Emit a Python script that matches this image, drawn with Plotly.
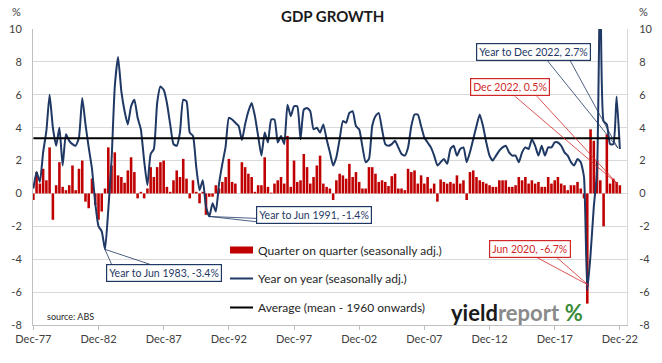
import pandas as pd
import plotly.graph_objects as go

# ---------------- data ----------------
first_quarter = "1977-12-01"
series_names = ["Quarter on quarter (seasonally adj.)",
                "Year on year (seasonally adj.)",
                "Average (mean - 1960 onwards)"]

qoq = [
    -0.4, 1.3, 0.6, 1.5, 0.8, 2.8, -1.6, 0.5, 1.9, 0.4,
    0.2, 0.5, 1.7, 0.2, 1.5, 2.0, -0.5, -0.9, 0.9, -0.7,
    -1.6, -1.1, 0.3, 2.8, 1.7, 2.5, 1.1, 1.0, 0.65, 1.4,
    2.2, 1.3, -0.3, 0.1, -0.3, 0.3, 1.6, 1.0, 1.6, 1.9,
    2.0, 0.4, 0.1, 0.8, 1.4, 1.0, 2.1, 0.9, -0.3, 0.8,
    0.1, -0.6, 0.1, -1.3, -0.2, -0.2, 0.5, 0.3, 0.7, 1.0,
    2.1, 0.7, 0.6, 0.0, 1.9, 1.6, 1.2, 1.0, 0.1, 0.5,
    0.5, 2.2, 0.4, 0.05, 0.6, 0.8, 1.0, 0.6, 3.5, 0.4,
    2.0, 0.7, 0.8, 2.4, 1.6, 0.6, 1.0, 1.7, 2.3, 0.6,
    0.4, 0.3, -0.4, 0.8, 1.2, 1.1, 0.9, 1.8, 1.0, 1.3,
    0.7, 0.3, 0.3, 1.6, 1.6, 1.2, 0.7, 0.8, 0.7, 0.45,
    1.05, 1.2, 0.3, 0.3, 0.2, 1.5, 1.3, 1.4, 0.6, 1.1,
    0.6, 1.0, 0.3, 0.6, -0.5, 0.85, 0.7, 0.6, 0.7, 0.6,
    1.1, 0.6, 0.8, -0.4, 1.3, 1.4, 1.0, 0.8, 0.7, 0.6,
    0.5, 0.4, 0.4, 0.8, 0.8, 0.8, 0.4, 0.4, 0.5, 1.0,
    0.8, 1.0, 0.6, 0.8, 0.6, 0.7, 0.4, 0.4, 1.0, 0.6,
    0.8, 1.0, 0.6, 0.5, 0.2, 0.5, 0.5, 0.7, 0.3, -0.3,
    -6.7, 3.9, 3.2, 2.0, 0.8, -2.0, 3.6, 0.6, 0.9, 0.7, 0.5,
]

yoy = [
    0.3, 1.3, 0.7, 2.5, 3.8, 6.0, 4.0, 2.9, 4.0, 1.7,
    3.6, 3.2, 3.0, 2.9, 3.4, 5.8, 4.2, 2.8, 1.5, -0.6,
    -2.0, -2.3, -3.4, -1.0, 2.0, 6.5, 8.3, 6.2, 5.0, 4.2,
    5.3, 5.7, 4.6, 3.9, 2.0, 0.5, 2.4, 2.7, 5.5, 6.5,
    6.3, 5.5, 4.2, 3.0, 2.9, 3.7, 5.7, 5.6, 3.7, 3.5,
    1.6, 0.2, 0.8, -0.8, -1.4, -0.6, -1.1, 0.6, 1.8, 2.85,
    4.6, 4.5, 4.3, 4.1, 3.25, 4.2, 5.0, 5.5, 4.7, 3.5,
    2.3, 3.7, 3.1, 4.5, 4.5, 3.1, 3.5, 3.0, 5.4, 4.7,
    5.3, 5.3, 3.3, 5.1, 5.2, 5.0, 3.9, 4.0, 3.7, 4.2,
    3.3, 2.5, 1.7, 2.2, 3.3, 4.4, 4.3, 4.9, 5.0, 4.1,
    3.9, 2.85, 1.9, 2.1, 4.1, 4.7, 4.9, 3.9, 3.0, 2.9,
    3.0, 3.2, 2.8, 2.4, 2.3, 2.8, 4.1, 4.8, 4.8, 4.1,
    3.4, 3.1, 2.8, 2.3, 1.7, 1.9, 2.1, 1.8, 2.7, 2.9,
    2.3, 2.7, 2.8, 1.9, 2.5, 3.3, 4.1, 4.8, 4.1, 3.1,
    2.3, 2.0, 2.3, 2.6, 2.8, 2.9, 2.5, 2.3, 2.3, 1.9,
    2.5, 2.8, 2.7, 3.3, 2.9, 2.3, 2.9, 2.3, 2.8, 2.8,
    3.1, 3.1, 2.9, 2.5, 2.3, 1.9, 1.7, 2.1, 1.9, 1.0,
    -5.9, -3.7, -0.8, 1.3, 14.0, 4.4, 4.2, 3.0, 3.0, 5.9, 2.7,
]

average_value = 3.35
average = [average_value] * len(yoy)

y_tick_values = [-8, -6, -4, -2, 0, 2, 4, 6, 8, 10]
y_tick_labels = ["-8", "-6", "-4", "-2", "0", "2", "4", "6", "8", "10"]
y_range = [-8, 10]
x_tick_step_months = 60
x_tick_format = "%b-%y"

# callouts: (series, index of quarter, text, colour)
callouts = [
    ("yoy", 22, "Year to Jun 1983, -3.4%", "#1F3864"),
    ("yoy", 54, "Year to Jun 1991, -1.4%", "#1F3864"),
    ("yoy", 180, "Year to Dec 2022, 2.7%", "#1F3864"),
    ("qoq", 180, "Dec 2022, 0.5%", "#D02828"),
    ("qoq", 170, "Jun 2020, -6.7%", "#D02828"),
]
# label box offset (px, screen) and wedge geometry (px, y up) per callout
callout_geom = [
    dict(ax=59, ay=24, tip=(0, 0), base=[(7, -16), (48, -16)]),
    dict(ax=105, ay=-1.5, tip=(0, 0), base=[(49, -2), (49, -5.5)]),
    dict(ax=-86, ay=-97.5, tip=(-2, 1), base=[(-73, 89), (-50, 89)]),
    dict(ax=-110, ay=-98, tip=(-2, 1), base=[(-105, 89), (-83, 89)]),
    dict(ax=-57, ay=-54.5, tip=(1, 18.6), base=[(-50.7, 46.3), (-30.7, 46.3)]),
]

# ---------------- figure ----------------
dates = pd.date_range(first_quarter, periods=len(qoq), freq="3MS")
series = {"qoq": qoq, "yoy": yoy}

BAR_RED = "#C00000"
NAVY = "#1F3864"
FONT = "Lato"
TXT = "#404040"

fig = go.Figure()
fig.add_trace(go.Bar(x=dates, y=qoq, marker=dict(color=BAR_RED, line=dict(width=0)),
                     name=series_names[0], showlegend=False))
fig.add_trace(go.Scatter(x=dates, y=yoy, mode="lines", name=series_names[1],
                         line=dict(color=NAVY, width=2, shape="spline", smoothing=0.5),
                         showlegend=False))
fig.add_trace(go.Scatter(x=dates, y=average, mode="lines", name=series_names[2],
                         line=dict(color="black", width=2), yaxis="y2", showlegend=False))

W, H = 662, 363
PL, PT, PR, PB = 33, 29, 35, 38
PW, PH = W - PL - PR, H - PT - PB


def pxx(x):
    return (x - PL) / PW


def pxy(y):
    return (PT + PH - y) / PH


annotations = []
shapes = []

# callouts
for (key, idx, text, col), g in zip(callouts, callout_geom):
    xv = dates[idx]
    yv = series[key][idx]
    annotations.append(dict(
        x=xv, y=yv, xref="x", yref="y", text=text, showarrow=True,
        ax=g["ax"], ay=g["ay"], arrowcolor="rgba(0,0,0,0)", arrowwidth=0.1,
        bordercolor=col, borderwidth=1.2, borderpad=2, bgcolor="white",
        font=dict(family=FONT, size=10.5, color=col)))
    tx, ty = g["tip"]
    path = "".join(f"M{tx},{ty} L{bx},{by} " for bx, by in g["base"])
    shapes.append(dict(type="path", xref="x", yref="y", xsizemode="pixel",
                       ysizemode="pixel", xanchor=xv, yanchor=yv, path=path,
                       line=dict(color=col, width=0.8), layer="above"))

# manual legend
leg_x0, leg_x1, leg_tx = 230, 253, 256
rows = [250, 278.5, 307.5]
shapes.append(dict(type="rect", xref="paper", yref="paper",
                   x0=pxx(leg_x0), x1=pxx(leg_x1), y0=pxy(rows[0] + 3.5), y1=pxy(rows[0] - 3.5),
                   fillcolor=BAR_RED, line=dict(width=0)))
shapes.append(dict(type="line", xref="paper", yref="paper",
                   x0=pxx(leg_x0), x1=pxx(leg_x1), y0=pxy(rows[1]), y1=pxy(rows[1]),
                   line=dict(color=NAVY, width=2)))
shapes.append(dict(type="line", xref="paper", yref="paper",
                   x0=pxx(leg_x0), x1=pxx(leg_x1), y0=pxy(rows[2]), y1=pxy(rows[2]),
                   line=dict(color="black", width=2)))
for name, ry in zip(series_names, rows):
    annotations.append(dict(x=pxx(leg_tx), y=pxy(ry), xref="paper", yref="paper",
                            text=name, showarrow=False, xanchor="left", yanchor="middle",
                            font=dict(family=FONT, size=12, color="#262626")))

# title, units, source, logo
annotations += [
    dict(x=pxx(332), y=pxy(16), xref="paper", yref="paper", text="<b>GDP GROWTH</b>",
         showarrow=False, xanchor="center", yanchor="middle",
         font=dict(family=FONT, size=15, color="#1a1a1a")),
    dict(x=pxx(16), y=pxy(11), xref="paper", yref="paper", text="%", showarrow=False,
         xanchor="center", yanchor="middle", font=dict(family=FONT, size=11, color=TXT)),
    dict(x=pxx(643), y=pxy(11), xref="paper", yref="paper", text="%", showarrow=False,
         xanchor="center", yanchor="middle", font=dict(family=FONT, size=11, color=TXT)),
    dict(x=pxx(45), y=pxy(316), xref="paper", yref="paper", text="source: ABS",
         showarrow=False, xanchor="left", yanchor="middle",
         font=dict(family=FONT, size=9, color="#262626")),
    dict(x=pxx(449), y=pxy(312), xref="paper", yref="paper",
         text="<b>yield</b><b><span style='color:#8a8a8a'>report</span></b> "
              "<b><span style='color:#3a8a3a'>%</span></b>",
         showarrow=False, xanchor="left", yanchor="middle",
         font=dict(family=FONT, size=22, color="#1a1a1a")),
]

yaxis_common = dict(range=y_range, tickmode="array", tickvals=y_tick_values,
                    ticktext=y_tick_labels, zeroline=False, showline=True, ticks="",
                    tickfont=dict(family=FONT, size=11, color=TXT))

fig.update_layout(
    width=W, height=H,
    margin=dict(l=PL, r=PR, t=PT, b=PB, pad=0, autoexpand=False),
    paper_bgcolor="white", plot_bgcolor="white",
    bargap=0.2,
    hovermode=False,
    font=dict(family=FONT, size=11, color=TXT),
    xaxis=dict(type="date",
               range=[dates[0] - pd.Timedelta(days=10), dates[-1] + pd.Timedelta(days=200)],
               tickmode="linear", tick0=dates[0], dtick=f"M{x_tick_step_months}",
               tickformat=x_tick_format, ticks="outside", ticklen=4, tickcolor="#BFBFBF",
               showline=True, linecolor="#BFBFBF", linewidth=1, showgrid=False,
               zeroline=False, tickfont=dict(family=FONT, size=11, color=TXT)),
    yaxis=dict(**yaxis_common, showgrid=True, gridcolor="#D9D9D9", gridwidth=1,
               linecolor="#BFBFBF", ticklabelstandoff=8),
    yaxis2=dict(**yaxis_common, overlaying="y", side="right", showgrid=False,
                linecolor="#D9D9D9", ticklabelstandoff=9),
    annotations=annotations,
    shapes=shapes,
)

fig.write_html("out.html", config={"displayModeBar": False, "staticPlot": True},
               post_script="document.body.style.margin='0px';document.body.style.overflow='hidden';")
